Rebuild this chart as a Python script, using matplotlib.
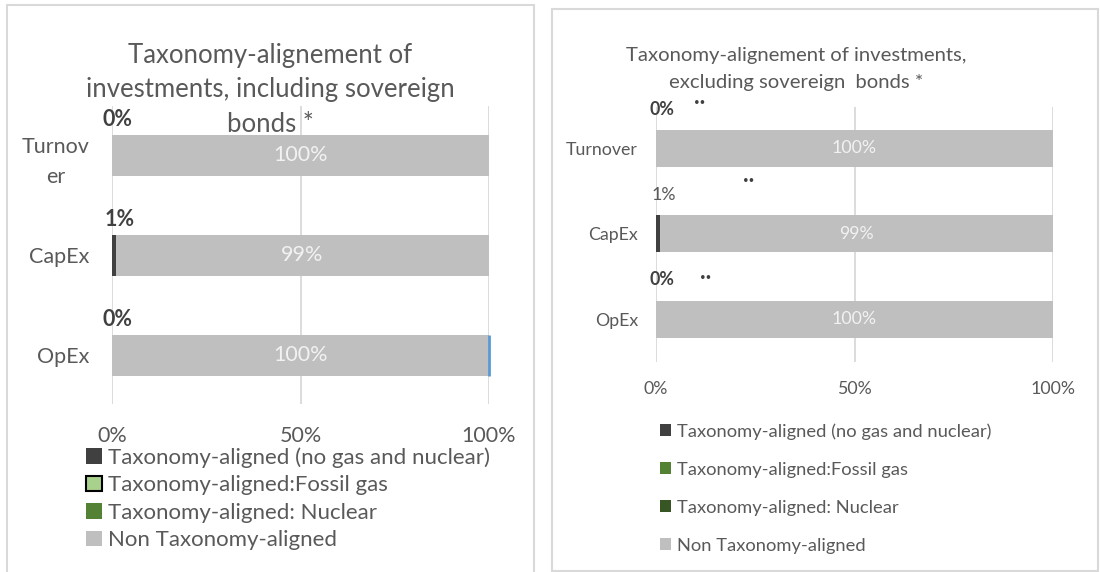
import matplotlib
matplotlib.use("Agg")
import matplotlib.pyplot as plt
import numpy as np
from matplotlib.patches import Rectangle

# ---- data ----
categories = ["Turnover", "CapEx", "OpEx"]
left_tick_labels = ["Turnov\ner", "CapEx", "OpEx"]
series_names = [
    "Taxonomy-aligned (no gas and nuclear)",
    "Taxonomy-aligned:Fossil gas",
    "Taxonomy-aligned: Nuclear",
    "Non Taxonomy-aligned",
]

incl_aligned = [0, 1, 0]
incl_fossil = [0, 0, 0]
incl_nuclear = [0, 0, 0]
incl_non = [100, 99, 100]

excl_aligned = [0, 1, 0]
excl_fossil = [0, 0, 0]
excl_nuclear = [0, 0, 0]
excl_non = [100, 99, 100]

x_ticks = [0, 50, 100]
x_tick_labels = ["0%", "50%", "100%"]

W, H = 1100, 572
TXT = "#595959"
DARK = "#404040"
GRID = "#D9D9D9"
plt.rcParams["font.family"] = ["Lato", "DejaVu Sans"]


def px_rect(x0, y0, x1, y1):
    return [x0 / W, 1 - y1 / H, (x1 - x0) / W, (y1 - y0) / H]


def draw_panel(ax, series, colors, tick_labels, ylim, bar_h, fs, pad_y, pad_x,
               label_rise, label_bold, tick_ls=1.2):
    ypos = np.arange(len(categories))[::-1]
    left = np.zeros(len(categories))
    containers = []
    for vals, col in zip(series, colors):
        vals = np.array(vals, dtype=float)
        c = ax.barh(ypos, vals, left=left, height=bar_h, color=col, linewidth=0)
        containers.append(c)
        left = left + vals
    ax.set_xlim(0, 100)
    ax.set_ylim(*ylim)
    ax.set_xticks(x_ticks)
    ax.set_xticklabels(x_tick_labels, fontsize=fs, color=TXT)
    ax.set_yticks(ypos)
    ax.set_yticklabels(tick_labels, fontsize=fs, color=TXT,
                       multialignment="center", linespacing=tick_ls)
    ax.tick_params(axis="both", length=0)
    ax.tick_params(axis="y", pad=pad_y)
    ax.tick_params(axis="x", pad=pad_x)
    for s in ax.spines.values():
        s.set_visible(False)
    ax.grid(axis="x", color=GRID, linewidth=1.3)
    ax.set_axisbelow(True)

    aligned = np.array(series[0], dtype=float)
    non = np.array(series[3], dtype=float)
    start_non = left - non
    for i, y in enumerate(ypos):
        ax.annotate(f"{aligned[i]:.0f}%", xy=(aligned[i] / 2, y + bar_h / 2),
                    xytext=(4, label_rise), textcoords="offset points",
                    ha="center", va="bottom", fontsize=fs,
                    fontweight="bold" if label_bold[i] else "normal",
                    color=DARK if label_bold[i] else TXT, annotation_clip=False)
        ax.text(start_non[i] + non[i] / 2, y, f"{non[i]:.0f}%", ha="center",
                va="center", fontsize=fs, color="#F2F2F2")
    return containers, ypos, left


fig = plt.figure(figsize=(W / 100, H / 100), dpi=100)

# panel frames
fig.add_artist(Rectangle((7 / W, -0.05), 527 / W, 1.05 - 4.5 / H,
                         transform=fig.transFigure, fill=False,
                         edgecolor=GRID, linewidth=1.5))
fig.add_artist(Rectangle((552 / W, 1 - 571 / H), 546 / W, 562 / H,
                         transform=fig.transFigure, fill=False,
                         edgecolor=GRID, linewidth=1.5))

# ---- left panel ----
colors_left = ["#404040", "#A9D18E", "#548235", "#BFBFBF"]
axL = fig.add_axes(px_rect(112, 106, 489, 404))
contL, yposL, endL = draw_panel(
    axL, [incl_aligned, incl_fossil, incl_nuclear, incl_non], colors_left,
    left_tick_labels, (-0.49, 2.49), 0.41, 15.5, 16, 16, 3, [True, True, True],
    tick_ls=1.6)
# thin blue edge at the end of the OpEx bar
axL.plot([endL[2], endL[2]], [yposL[2] - 0.205, yposL[2] + 0.205],
         color="#5B9BD5", linewidth=2, solid_capstyle="butt", clip_on=False)
fig.text(270 / W, 1 - 90 / H,
         "Taxonomy-alignement of\ninvestments, including sovereign\nbonds *",
         ha="center", va="center", fontsize=18.5, color=TXT, linespacing=1.48)
legL = fig.legend([c for c in contL], series_names, loc="upper left",
                  bbox_to_anchor=(86 / W, 1 - 447 / H), frameon=False,
                  fontsize=16, handlelength=0.7, handleheight=0.7,
                  handletextpad=0.3, labelspacing=0.34, borderpad=0,
                  borderaxespad=0, labelcolor=TXT)
legL.legend_handles[1].set_edgecolor("black")
legL.legend_handles[1].set_linewidth(1.5)

# ---- right panel ----
colors_right = ["#404040", "#548235", "#375623", "#BFBFBF"]
axR = fig.add_axes(px_rect(656, 107, 1053, 362))
contR, yposR, endR = draw_panel(
    axR, [excl_aligned, excl_fossil, excl_nuclear, excl_non], colors_right,
    categories, (-0.5, 2.485), 0.43, 12.8, 13, 14, 9, [True, False, True])
# small stray label marks
for y, dx, dy in zip(yposR, [44, 93, 50], [28, 35, 23]):
    axR.annotate("••", xy=(0, y + 0.215), xytext=(dx * 0.72, dy * 0.72),
                 textcoords="offset points", ha="center", va="center",
                 fontsize=7, color=DARK, annotation_clip=False)
fig.text(796 / W, 1 - 69 / H,
         "Taxonomy-alignement of investments,\nexcluding sovereign  bonds *",
         ha="center", va="center", fontsize=14.6, color=TXT, linespacing=1.65)
fig.legend([c for c in contR], series_names, loc="upper left",
           bbox_to_anchor=(660 / W, 1 - 423 / H), frameon=False,
           fontsize=13.2, handlelength=0.6, handleheight=0.6,
           handletextpad=0.35, labelspacing=1.2, borderpad=0,
           borderaxespad=0, labelcolor=TXT)

fig.savefig("out.png", dpi=100)
